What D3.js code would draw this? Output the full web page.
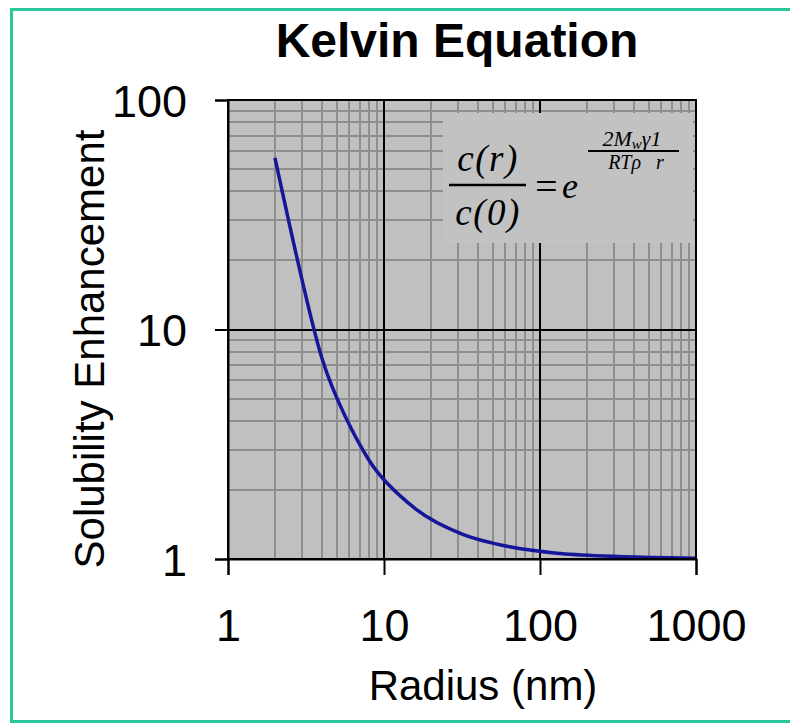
<!DOCTYPE html>
<html lang="en">
<head>
    <meta charset="UTF-8">
    <title>Kelvin Equation</title>
    <script src="https://d3js.org/d3.v7.min.js"></script>
    <style>
        body { margin: 0; background: #ffffff; overflow: hidden; }
        text { font-family: Arial, "Liberation Sans", sans-serif; fill: #000; }
        .eq text { font-family: "Liberation Serif", "Times New Roman", serif; font-style: italic; }
    </style>
</head>
<body>
<svg width="790" height="723"></svg>

<script>
    // radius (nm) and solubility enhancement c(r)/c(0)
    const radius = [2, 4, 8, 16, 32, 64, 128, 256, 512, 1000];
    const enhancement = [56, 7.5, 2.7, 1.65, 1.28, 1.13, 1.06, 1.03, 1.015, 1.008];

    const xTicks = [1, 10, 100, 1000];
    const yTicks = [1, 10, 100];

    const svg = d3.select("svg");

    // outer frame (open on the right)
    svg.append("path")
        .attr("d", "M800,9.5 H11.5 V721.5 H800")
        .attr("fill", "none")
        .attr("stroke", "#2cc79b")
        .attr("stroke-width", 3);

    const pLeft = 228, pRight = 696, pTop = 100, pBottom = 559;

    const x = d3.scaleLog().domain([1, 1000]).range([pLeft, pRight]);
    const y = d3.scaleLog().domain([1, 100]).range([pBottom, pTop]);

    // plot background
    svg.append("rect")
        .attr("x", pLeft).attr("y", pTop)
        .attr("width", pRight - pLeft).attr("height", pBottom - pTop)
        .attr("fill", "#c0c0c0");

    // minor grid
    const grid = svg.append("g");
    grid.selectAll(".vx")
        .data(x.ticks().filter(d => !xTicks.includes(d)))
        .join("line")
        .attr("x1", d => Math.round(x(d))).attr("x2", d => Math.round(x(d)))
        .attr("y1", pTop).attr("y2", pBottom)
        .attr("stroke", "#8e8e8e").attr("stroke-width", 2);
    grid.selectAll(".hy")
        .data(y.ticks().filter(d => !yTicks.includes(d)))
        .join("line")
        .attr("y1", d => Math.round(y(d))).attr("y2", d => Math.round(y(d)))
        .attr("x1", pLeft).attr("x2", pRight)
        .attr("stroke", "#8e8e8e").attr("stroke-width", 2);

    // major grid
    grid.selectAll(".mx")
        .data(xTicks)
        .join("line")
        .attr("x1", d => Math.round(x(d))).attr("x2", d => Math.round(x(d)))
        .attr("y1", pTop).attr("y2", pBottom)
        .attr("stroke", "#000").attr("stroke-width", 2);
    grid.selectAll(".my")
        .data(yTicks)
        .join("line")
        .attr("y1", d => Math.round(y(d))).attr("y2", d => Math.round(y(d)))
        .attr("x1", pLeft).attr("x2", pRight)
        .attr("stroke", "#000").attr("stroke-width", 2);

    // axes
    const xAxis = svg.append("g")
        .attr("transform", `translate(0,${pBottom})`)
        .call(d3.axisBottom(x).tickValues(xTicks).tickSize(16).tickPadding(34).tickFormat(d3.format("d")));
    const yAxis = svg.append("g")
        .attr("transform", `translate(${pLeft},0)`)
        .call(d3.axisLeft(y).tickValues(yTicks).tickSize(13).tickPadding(28).tickFormat(d3.format("d")));

    [xAxis, yAxis].forEach(function (g) {
        g.select(".domain").attr("stroke", "#000").attr("stroke-width", 2);
        g.selectAll(".tick line").attr("stroke", "#000").attr("stroke-width", 2);
        g.selectAll(".tick text").attr("font-size", 45).attr("font-family", "Arial, 'Liberation Sans', sans-serif");
    });
    yAxis.selectAll(".tick text").attr("dy", "0.36em");

    // equation box
    svg.append("rect")
        .attr("x", 443).attr("y", 113)
        .attr("width", 250).attr("height", 130)
        .attr("fill", "#c2c2c2");

    const eq = svg.append("g").attr("class", "eq");
    eq.append("text").attr("x", 488).attr("y", 171).attr("text-anchor", "middle")
        .attr("font-size", 37).attr("letter-spacing", 1.5).text("c(r)");
    eq.append("line").attr("x1", 449).attr("x2", 526).attr("y1", 185).attr("y2", 185)
        .attr("stroke", "#000").attr("stroke-width", 2.5);
    eq.append("text").attr("x", 488).attr("y", 225).attr("text-anchor", "middle")
        .attr("font-size", 37).attr("letter-spacing", 1.5).text("c(0)");
    eq.append("text").attr("x", 546).attr("y", 200).attr("text-anchor", "middle")
        .attr("font-size", 40).attr("font-style", "normal").text("=");
    eq.append("text").attr("x", 570).attr("y", 198).attr("text-anchor", "middle")
        .attr("font-size", 36).text("e");
    const num = eq.append("text").attr("x", 632).attr("y", 146).attr("text-anchor", "middle")
        .attr("font-size", 22);
    num.append("tspan").text("2M");
    num.append("tspan").attr("font-size", 15).attr("dy", 3).text("w");
    num.append("tspan").attr("dy", -3).text("γ1");
    eq.append("line").attr("x1", 588).attr("x2", 679).attr("y1", 151).attr("y2", 151)
        .attr("stroke", "#000").attr("stroke-width", 2);
    eq.append("text").attr("x", 636).attr("y", 169).attr("text-anchor", "middle")
        .attr("font-size", 20).attr("xml:space", "preserve").text("RTρ   r");

    // curve
    const line = d3.line()
        .x((d, i) => x(radius[i]))
        .y(d => y(d))
        .curve(d3.curveCardinal.tension(0.2));
    svg.append("path")
        .attr("d", line(enhancement))
        .attr("fill", "none")
        .attr("stroke", "#16169a")
        .attr("stroke-width", 3.5)
        .attr("stroke-linejoin", "round");

    // plot border
    svg.append("rect")
        .attr("x", pLeft).attr("y", pTop)
        .attr("width", pRight - pLeft).attr("height", pBottom - pTop)
        .attr("fill", "none").attr("stroke", "#000").attr("stroke-width", 2);

    // titles
    svg.append("text")
        .attr("x", 457).attr("y", 57)
        .attr("text-anchor", "middle")
        .attr("font-size", 48).attr("font-weight", "bold")
        .text("Kelvin Equation");
    svg.append("text")
        .attr("x", 483).attr("y", 700)
        .attr("text-anchor", "middle")
        .attr("font-size", 42)
        .text("Radius (nm)");
    svg.append("text")
        .attr("transform", "translate(104,349) rotate(-90)")
        .attr("text-anchor", "middle")
        .attr("font-size", 42)
        .text("Solubility Enhancement");
</script>
</body>
</html>
